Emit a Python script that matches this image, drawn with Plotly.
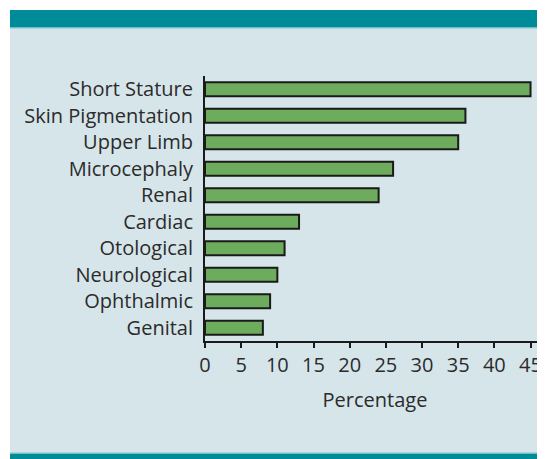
import plotly.graph_objects as go

categories = ["Short Stature", "Skin Pigmentation", "Upper Limb", "Microcephaly", "Renal",
              "Cardiac", "Otological", "Neurological", "Ophthalmic", "Genital"]
values = [45, 36, 35, 26, 24, 13, 11, 10, 9, 8]
x_ticks = [0, 5, 10, 15, 20, 25, 30, 35, 40, 45]

OFF = 8  # page body margin
W, H = 545 - OFF, 459 - OFF
BG = "#d6e5ea"
TEAL = "#008b99"
TXT = "#2b2b2b"
FONT = "Open Sans"
FS = 20

fig = go.Figure(go.Bar(
    x=values, y=categories, orientation="h",
    marker=dict(color="#6dac5d", line=dict(color="#1a1a1a", width=2)),
    width=0.53,
))

pl, pr, pt, pb = 205 - OFF, 0, 76 - OFF, 118
pw, ph = W - pl - pr, H - pt - pb


def px_x(x):
    return (x - OFF - pl) / pw


def px_y(y):
    return (H - pb - (y - OFF)) / ph


shapes = [
    dict(type="rect", xref="paper", yref="paper", layer="below",
         x0=px_x(10), x1=px_x(545), y0=px_y(459), y1=px_y(10), line_width=0, fillcolor=BG),
    dict(type="rect", xref="paper", yref="paper", layer="below",
         x0=px_x(10), x1=px_x(545), y0=px_y(27.5), y1=px_y(10), line_width=0, fillcolor=TEAL),
    dict(type="rect", xref="paper", yref="paper", layer="below",
         x0=px_x(10), x1=px_x(545), y0=px_y(28.5), y1=px_y(27.5), line_width=0, fillcolor="#7fc3cb"),
    dict(type="rect", xref="paper", yref="paper", layer="below",
         x0=px_x(10), x1=px_x(545), y0=px_y(459), y1=px_y(453.5), line_width=0, fillcolor=TEAL),
    dict(type="rect", xref="paper", yref="paper", layer="below",
         x0=px_x(10), x1=px_x(545), y0=px_y(453.5), y1=px_y(452.5), line_width=0, fillcolor="#7fc3cb"),
]

fig.update_layout(
    width=W, height=H,
    margin=dict(l=pl, r=pr, t=pt, b=pb, pad=0),
    paper_bgcolor="white",
    plot_bgcolor=BG,
    showlegend=False,
    shapes=shapes,
    font=dict(family=FONT, color=TXT, size=FS),
    xaxis=dict(
        range=[0, 47], tickvals=x_ticks, ticktext=[str(v) for v in x_ticks],
        showgrid=False, zeroline=False,
        showline=True, linecolor="#1a1a1a", linewidth=2,
        ticks="outside", ticklen=5, tickwidth=2, tickcolor="#1a1a1a",
        tickfont=dict(family=FONT, size=FS, color=TXT),
        title=dict(text="Percentage", font=dict(family=FONT, size=FS, color=TXT), standoff=16),
        fixedrange=True,
    ),
    yaxis=dict(
        categoryorder="array", categoryarray=categories[::-1],
        range=[-0.5, 9.5],
        showgrid=False, zeroline=False,
        showline=True, linecolor="#1a1a1a", linewidth=2,
        ticks="", ticklabelstandoff=6,
        tickfont=dict(family=FONT, size=FS, color=TXT),
        fixedrange=True,
    ),
)

fig.write_html("out.html")
